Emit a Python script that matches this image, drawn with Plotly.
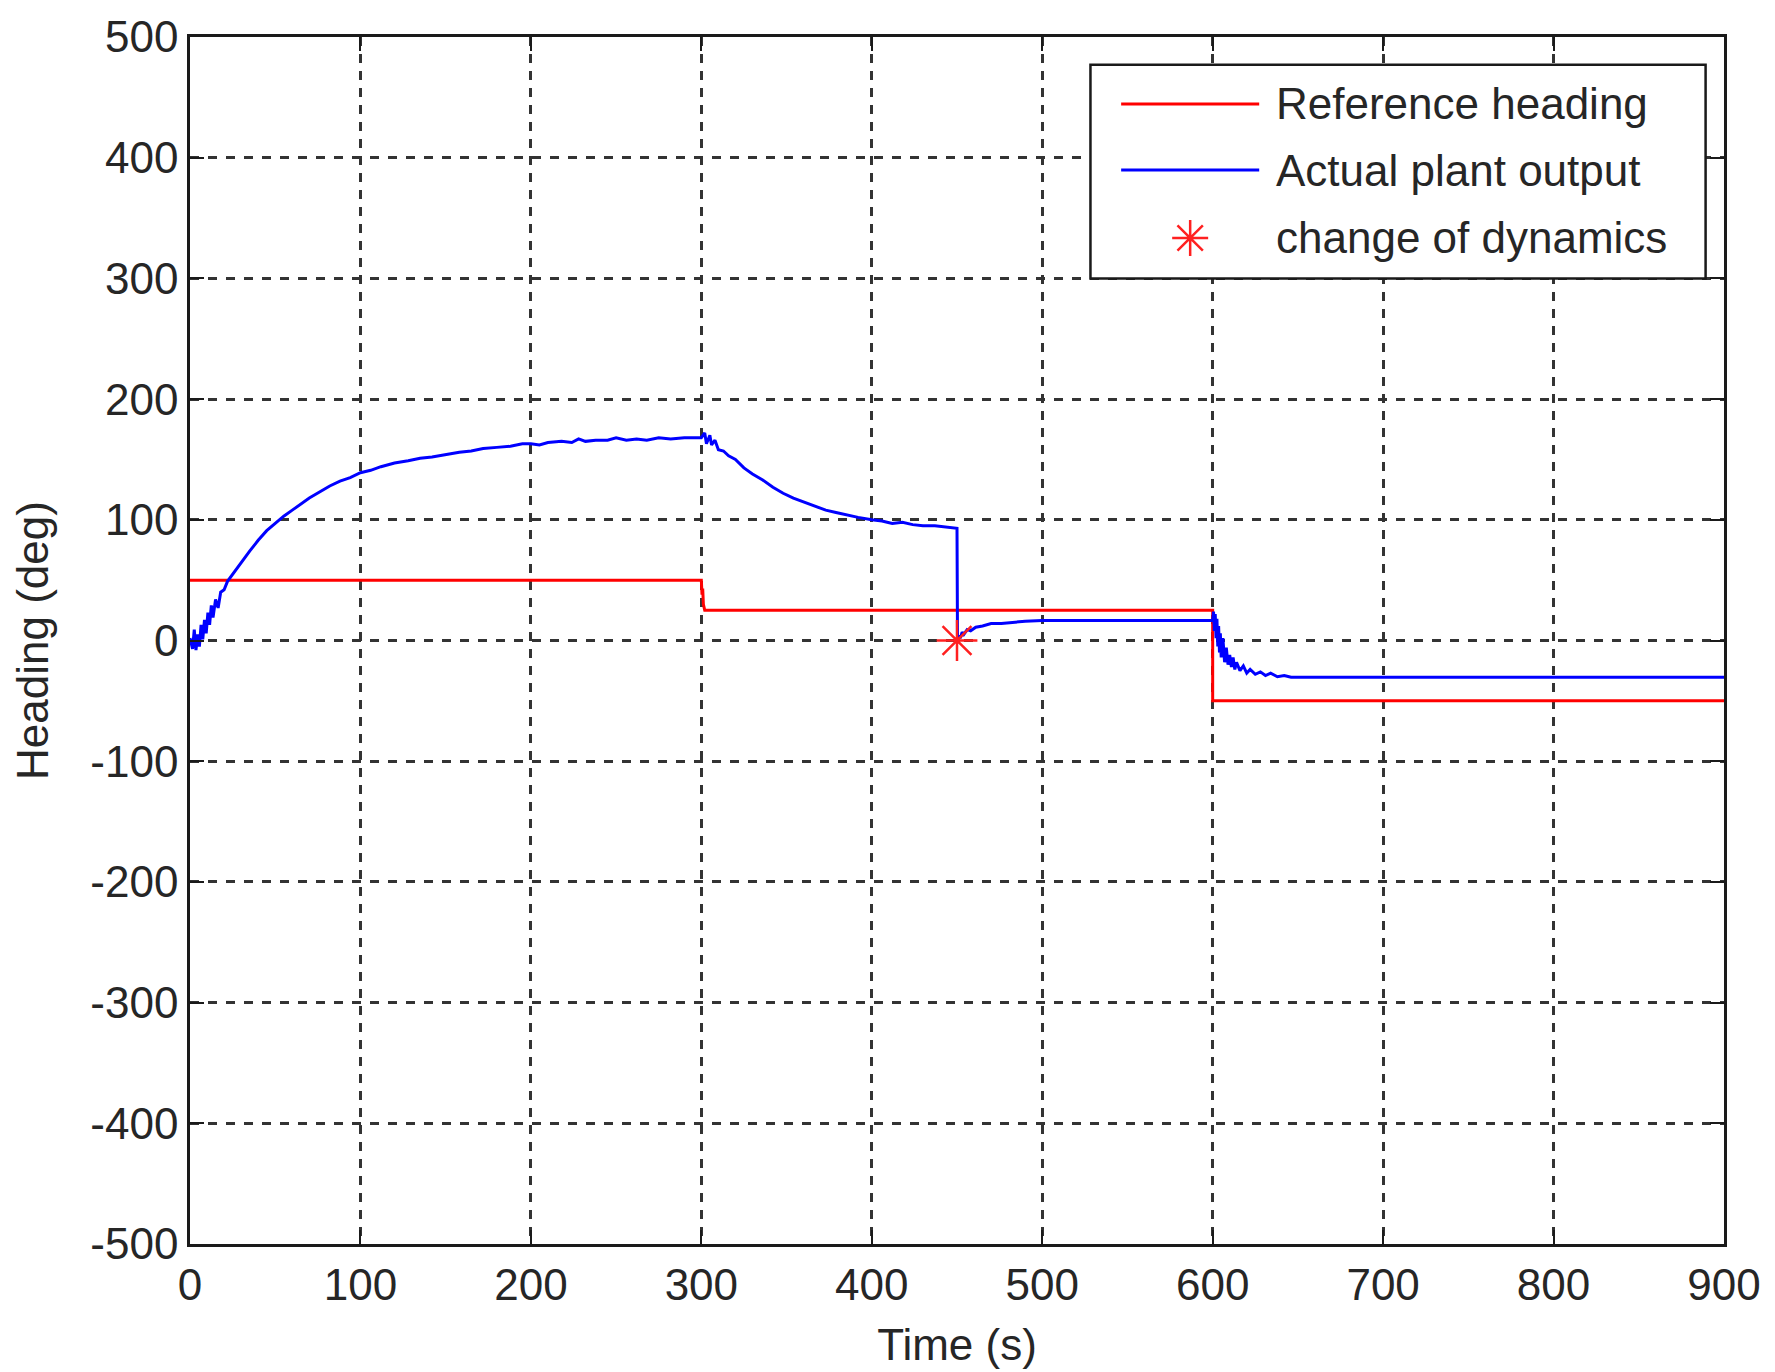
import plotly.graph_objects as go

# Reference heading command (deg) over time (s)
ref_time = [0, 300, 300.4, 300.8, 301.2, 302, 600, 600, 900]
ref_heading = [50, 50, 38, 43, 30, 25, 25, -50, -50]

# Measured heading of the plant (deg) over time (s)
plant_time = [
    0, 1.5, 2.5, 3.5, 4.5, 5.5, 6.5, 7.5, 8.5, 9.5, 10.5, 11.5, 12.5, 13.5, 15, 16.5, 18, 20, 22,
    25, 28, 31, 35, 40, 45, 50, 55, 60, 65, 70, 76, 82, 88, 94, 100, 106, 112, 120, 128, 135,
    142, 150, 158, 165, 172, 180, 188, 195, 200, 205, 210, 218, 224, 228, 232, 238, 245, 250,
    256, 262, 268, 275, 282, 290, 297, 300, 302, 303, 305, 306, 308, 310, 313, 316, 320, 325,
    330, 336, 342, 348, 354, 360, 367, 373, 379, 385, 392, 400, 406, 412, 418, 424, 430, 437,
    444, 450, 450.3, 451, 452, 453, 454, 456, 458, 461, 465, 470, 476, 482, 490, 500, 550, 600,
    600.5, 601, 601.5, 602, 602.5, 603, 603.5, 604, 604.5, 605, 606, 607, 608, 609, 610, 611,
    612, 613, 614, 616, 618, 620, 622, 625, 628, 631, 634, 638, 642, 646, 650, 900,
]
plant_heading = [
    2, -7, 9, -8, 5, -5, 13, 1, 17, 6, 23, 13, 29, 19, 34, 27, 40, 42, 49,
    55, 61, 67, 74, 83, 91, 97, 103, 108, 113, 118, 123, 128, 132, 135, 139, 141, 144, 147, 149, 151,
    152, 154, 156, 157, 159, 160, 161, 163, 163, 162, 164, 165, 164, 167, 165, 166, 166, 168,
    166, 167, 166, 168, 167, 168, 168, 168, 172, 163, 170, 162, 166, 158, 157, 153, 150, 143,
    138, 133, 127, 122, 118, 115, 111, 108, 106, 104, 102, 100, 99, 97, 98, 96, 95, 95,
    94, 93, 0, 4, 2, 7, 5, 9, 8, 11, 12, 14, 14, 15, 16, 16.5, 16.5, 16.5,
    24, 8, 22, 2, 18, -5, 12, -10, 6, -14, 2, -18, -6, -20, -12, -22,
    -14, -24, -18, -25, -21, -27, -24, -28, -26, -29, -27, -30, -29, -30.5, -30.5, -30.5,
]

# Instant at which the plant dynamics are switched
change_time = [450]
change_heading = [0]

legend_labels = ["Reference heading", "Actual plant output", "change of dynamics"]

x_ticks = list(range(0, 901, 100))
y_ticks = list(range(-500, 501, 100))
y_tick_text = [str(v) for v in y_ticks]  # plain hyphen for negatives

FONT = "Liberation Sans, Arial, sans-serif"
TXT = "#262626"
STAR_RED = "#ff2020"

fig = go.Figure()

fig.add_trace(go.Scatter(x=ref_time, y=ref_heading, mode="lines",
                         line=dict(color="#ff0000", width=3), showlegend=False))
fig.add_trace(go.Scatter(x=plant_time, y=plant_heading, mode="lines",
                         line=dict(color="#0000ff", width=3), showlegend=False))
fig.add_trace(go.Scatter(x=change_time, y=change_heading, mode="markers",
                         marker=dict(symbol="asterisk-open", size=34, color=STAR_RED,
                                     line=dict(color=STAR_RED, width=2.5)),
                         showlegend=False))

# Boxed key in the upper right corner (fractions of the plot area)
lx0, lx1, ly0, ly1 = 0.587, 0.988, 0.800, 0.977
rows = [0.9445, 0.8898, 0.8335]
sample_x0, sample_x1, text_x = 0.607, 0.697, 0.7067

fig.add_shape(type="rect", xref="paper", yref="paper", x0=lx0, x1=lx1, y0=ly0, y1=ly1,
              fillcolor="white", line=dict(color="#1a1a1a", width=2.5), layer="above")
for ry, col in zip(rows[:2], ["#ff0000", "#0000ff"]):
    fig.add_shape(type="line", xref="paper", yref="paper", x0=sample_x0, x1=sample_x1, y0=ry, y1=ry,
                  line=dict(color=col, width=3), layer="above")
# eight-armed asterisk glyph for the third key entry, sized in pixels
fig.add_shape(type="path", xref="paper", yref="paper",
              xsizemode="pixel", ysizemode="pixel",
              xanchor=(sample_x0 + sample_x1) / 2, yanchor=rows[2],
              path="M-18,0L18,0M0,-18L0,18M-12.7,-12.7L12.7,12.7M-12.7,12.7L12.7,-12.7",
              line=dict(color=STAR_RED, width=2.5), layer="above")
for ry, label in zip(rows, legend_labels):
    fig.add_annotation(x=text_x, y=ry, xref="paper", yref="paper", text=label, showarrow=False,
                       xanchor="left", yanchor="middle",
                       font=dict(family=FONT, size=44, color=TXT))

axis_common = dict(
    showline=True, linecolor="#1a1a1a", linewidth=2.5, mirror="ticks",
    ticks="inside", ticklen=14, tickwidth=2, tickcolor="#1a1a1a",
    showgrid=True, gridcolor="#333333", gridwidth=3, zeroline=False,
    tickfont=dict(family=FONT, size=44, color=TXT),
)

fig.update_layout(
    width=1775, height=1372,
    margin=dict(l=190, r=51, t=37, b=128),
    paper_bgcolor="white", plot_bgcolor="white",
    xaxis=dict(range=[0, 900], tickvals=x_ticks, griddash="9px,8px",
               title=dict(text="Time (s)", font=dict(family=FONT, size=44, color=TXT), standoff=22),
               **axis_common),
    yaxis=dict(range=[-500, 500], tickvals=y_ticks, ticktext=y_tick_text, griddash="9px,9px",
               title=dict(text="Heading (deg)", font=dict(family=FONT, size=44, color=TXT), standoff=28),
               **axis_common),
    showlegend=False,
)

fig.write_html("out.html")
